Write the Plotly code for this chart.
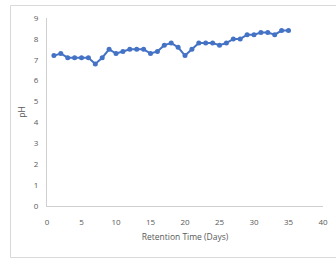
import plotly.graph_objects as go

days = list(range(1, 36))
ph = [7.2, 7.3, 7.1, 7.1, 7.1, 7.1, 6.8, 7.1, 7.5, 7.3,
      7.4, 7.5, 7.5, 7.5, 7.3, 7.4, 7.7, 7.8, 7.6, 7.2,
      7.5, 7.8, 7.8, 7.8, 7.7, 7.8, 8.0, 8.0, 8.2, 8.2,
      8.3, 8.3, 8.2, 8.4, 8.4]
x_ticks = [0, 5, 10, 15, 20, 25, 30, 35, 40]
y_ticks = [0, 1, 2, 3, 4, 5, 6, 7, 8, 9]

fig = go.Figure(go.Scatter(
    x=days, y=ph, mode="lines+markers",
    line=dict(color="#4472C4", width=2),
    marker=dict(color="#4472C4", size=5),
    cliponaxis=False,
))

W, H = 336, 265
L, R, T, B = 47, 13, 18, 59
pw, ph_ = W - L - R, H - T - B

def px(x):
    return (x - L) / pw

def py(y):
    return (H - B - y) / ph_

fig.update_layout(
    width=W, height=H,
    margin=dict(l=L, r=R, t=T, b=B, autoexpand=False),
    paper_bgcolor="white", plot_bgcolor="white",
    showlegend=False,
    font=dict(family="Open Sans", size=8, color="#595959"),
    xaxis=dict(range=[0, 40], tickvals=x_ticks, showgrid=False, zeroline=False,
               showline=True, linecolor="#CFCFCF", linewidth=1, ticks="",
               automargin=False, ticklabelstandoff=8,
               title=dict(text="Retention Time (Days)", font=dict(size=8.5), standoff=8)),
    yaxis=dict(range=[0, 9], tickvals=y_ticks, showgrid=False, zeroline=False,
               showline=True, linecolor="#CFCFCF", linewidth=1, ticks="",
               automargin=False, ticklabelstandoff=6,
               title=dict(text="pH", font=dict(size=8.5), standoff=6)),
    shapes=[
        dict(type="line", xref="paper", yref="paper",
             x0=px(10.5), x1=px(340), y0=py(5.5), y1=py(5.5),
             line=dict(color="#D9D9D9", width=1), layer="below"),
        dict(type="line", xref="paper", yref="paper",
             x0=px(10.5), x1=px(340), y0=py(257.5), y1=py(257.5),
             line=dict(color="#D9D9D9", width=1), layer="below"),
        dict(type="line", xref="paper", yref="paper",
             x0=px(10.5), x1=px(10.5), y0=py(5.5), y1=py(257.5),
             line=dict(color="#D9D9D9", width=1), layer="below"),
    ],
)

fig.write_html("out.html", config={"displayModeBar": False},
               post_script="document.body.style.margin='0';document.body.style.overflow='hidden';")
